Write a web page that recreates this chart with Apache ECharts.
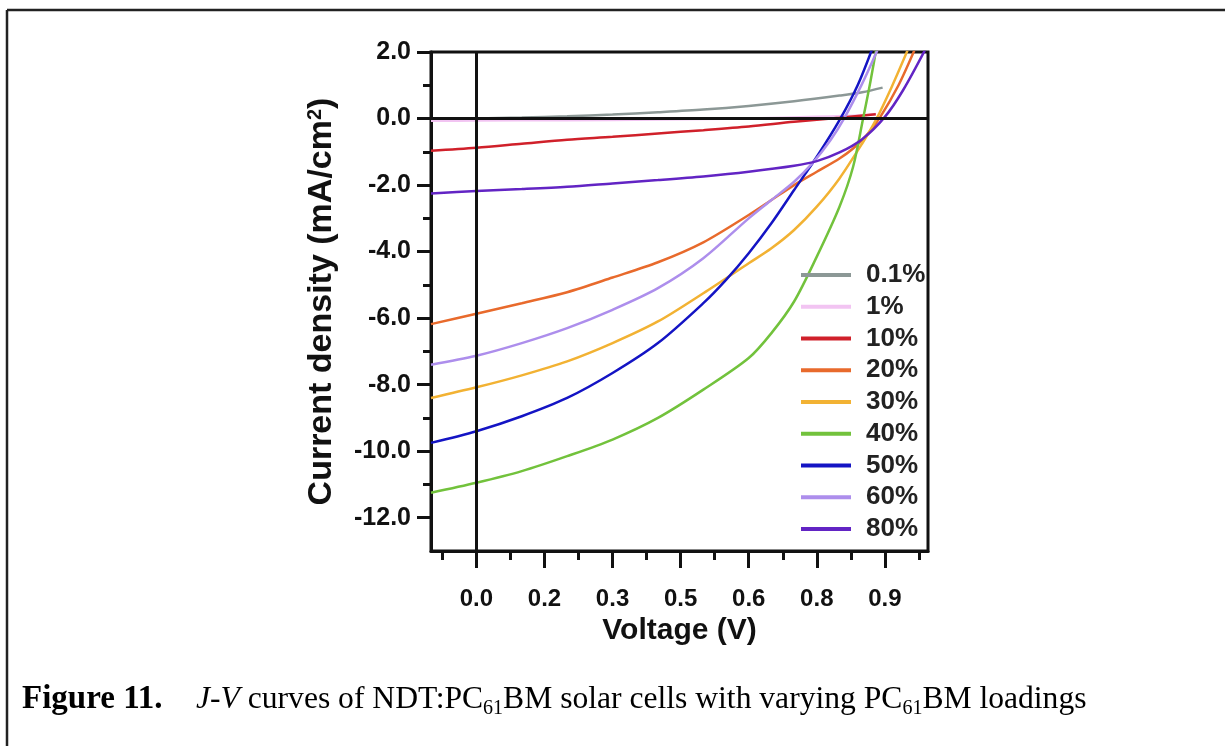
<!DOCTYPE html>
<html>
<head>
<meta charset="utf-8">
<script src="https://cdn.jsdelivr.net/npm/echarts@6/dist/echarts.min.js"></script>
<style>
  html, body { margin: 0; padding: 0; background: #fff; }
  #chart { width: 1225px; height: 746px; }
</style>
</head>
<body>
<div id="chart"></div>
<script>
// J-V curves, [voltage (V), current density (mA/cm2)]
const names = ['0.1%', '1%', '10%', '20%', '30%', '40%', '50%', '60%', '80%'];
const colors = ['#8c9896', '#f2c4f2', '#d0202a', '#e86a2c', '#f2b233', '#72c23c', '#1414c4', '#ad8eec', '#6224c4'];

const jv01 = [[-0.1, -0.03], [0, 0], [0.1, 0.03], [0.2, 0.07], [0.3, 0.12], [0.4, 0.19], [0.5, 0.27], [0.6, 0.38], [0.7, 0.52], [0.8, 0.69], [0.85, 0.79], [0.895, 0.93]];
const jv1 = [[-0.1, -0.07], [0, -0.06], [0.2, -0.05], [0.4, -0.03], [0.6, 0.0], [0.75, 0.05], [0.85, 0.1], [0.88, 0.14]];
const jv10 = [[-0.1, -0.97], [0, -0.88], [0.1, -0.76], [0.2, -0.64], [0.3, -0.55], [0.4, -0.45], [0.5, -0.35], [0.6, -0.24], [0.7, -0.1], [0.8, 0.02], [0.88, 0.13]];
const jv20 = [[-0.1, -6.18], [0, -5.87], [0.1, -5.55], [0.2, -5.22], [0.3, -4.78], [0.4, -4.32], [0.5, -3.72], [0.6, -2.9], [0.65, -2.45], [0.7, -2.0], [0.75, -1.6], [0.8, -1.2], [0.83, -0.9], [0.86, -0.5], [0.89, 0.05], [0.93, 1.0], [0.965, 2.05]];
const jv30 = [[-0.1, -8.4], [0, -8.08], [0.1, -7.72], [0.2, -7.3], [0.3, -6.75], [0.4, -6.1], [0.5, -5.25], [0.6, -4.35], [0.65, -3.9], [0.7, -3.35], [0.75, -2.65], [0.8, -1.8], [0.85, -0.75], [0.88, -0.05], [0.915, 0.95], [0.95, 2.05]];
const jv40 = [[-0.1, -11.25], [0, -10.95], [0.1, -10.6], [0.2, -10.15], [0.3, -9.65], [0.4, -9.0], [0.5, -8.15], [0.6, -7.2], [0.65, -6.45], [0.7, -5.5], [0.75, -4.15], [0.8, -2.65], [0.83, -1.45], [0.852, 0.0], [0.868, 1.1], [0.885, 2.4]];
const jv50 = [[-0.1, -9.75], [0, -9.4], [0.1, -8.95], [0.2, -8.4], [0.3, -7.65], [0.4, -6.75], [0.5, -5.55], [0.55, -4.85], [0.6, -4.05], [0.65, -3.15], [0.7, -2.15], [0.75, -1.15], [0.8, -0.05], [0.84, 1.0], [0.875, 2.2]];
const jv60 = [[-0.1, -7.4], [0, -7.13], [0.1, -6.75], [0.2, -6.3], [0.3, -5.75], [0.4, -5.1], [0.5, -4.2], [0.6, -3.0], [0.65, -2.45], [0.7, -1.9], [0.74, -1.35], [0.78, -0.65], [0.81, 0.0], [0.85, 1.05], [0.885, 2.1]];
const jv80 = [[-0.1, -2.25], [0, -2.18], [0.1, -2.12], [0.2, -2.05], [0.3, -1.95], [0.4, -1.85], [0.5, -1.74], [0.6, -1.6], [0.7, -1.42], [0.75, -1.28], [0.8, -1.02], [0.85, -0.62], [0.9, 0.05], [0.94, 0.85], [0.99, 2.1]];
const curves = [jv01, jv1, jv10, jv20, jv30, jv40, jv50, jv60, jv80];

// axis ticks
const xMajorTicks = [0, 0.15, 0.3, 0.45, 0.6, 0.75, 0.9];
const xTickLabels = ['0.0', '0.2', '0.3', '0.5', '0.6', '0.8', '0.9'];
const xMinorTicks = [-0.075, 0.075, 0.225, 0.375, 0.525, 0.675, 0.825, 0.975];
const yMajorTicks = [-12, -10, -8, -6, -4, -2, 0, 2];
const yMinorTicks = [-11, -9, -7, -5, -3, -1, 1];

const font = 'Liberation Sans, Arial, sans-serif';
const serif = 'Liberation Serif, Times New Roman, serif';
const ink = '#111';

function nearestLabel(v, ticks, labels) {
    let best = 0;
    ticks.forEach((t, i) => {
        if (Math.abs(t - v) < Math.abs(ticks[best] - v)) best = i;
    });
    return labels[best];
}

const xBase = { type: 'value', position: 'bottom', min: -0.1, max: 0.995, splitLine: { show: false } };
const yBase = { type: 'value', position: 'left', min: -13, max: 2, splitLine: { show: false } };

const series = names.map((name, i) => ({
    name: name,
    type: 'line',
    data: curves[i],
    color: colors[i],
    showSymbol: false,
    smooth: 0.3,
    lineStyle: { width: 2.5 },
    z: 3
}));

// black zero lines
series.push({
    name: 'zero',
    type: 'line',
    data: [[0, 0]],
    showSymbol: false,
    z: 1,
    markLine: {
        silent: true,
        symbol: ['none', 'none'],
        label: { show: false },
        lineStyle: { color: ink, width: 3, type: 'solid' },
        data: [{ yAxis: 0 }, { xAxis: 0 }]
    }
});

const option = {
    animation: false,
    backgroundColor: '#fff',
    grid: {
        left: 431, right: 297, top: 52, bottom: 195,
        show: true, borderColor: ink, borderWidth: 3
    },
    xAxis: [
        Object.assign({}, xBase, {
            name: 'Voltage (V)',
            nameLocation: 'middle',
            nameGap: 64,
            nameTextStyle: { fontFamily: font, fontSize: 30, fontWeight: 'bold', color: ink },
            axisLine: { onZero: false, lineStyle: { color: ink, width: 3 } },
            axisTick: { customValues: xMajorTicks, length: 17, lineStyle: { color: ink, width: 3 } },
            axisLabel: {
                customValues: xMajorTicks,
                margin: 36,
                fontFamily: font, fontSize: 24, fontWeight: 'bold', color: ink,
                formatter: v => nearestLabel(v, xMajorTicks, xTickLabels)
            }
        }),
        Object.assign({}, xBase, {
            axisLine: { show: false, onZero: false },
            axisTick: { customValues: xMinorTicks, length: 9, lineStyle: { color: ink, width: 3 } },
            axisLabel: { show: false }
        })
    ],
    yAxis: [
        Object.assign({}, yBase, {
            name: 'Current density (mA/cm{sup|2})',
            nameLocation: 'middle',
            nameGap: 92,
            nameTextStyle: {
                fontFamily: font, fontSize: 34, fontWeight: 'bold', color: ink,
                rich: { sup: { fontFamily: font, fontSize: 20, fontWeight: 'bold', color: ink, verticalAlign: 'top' } }
            },
            axisLine: { onZero: false, lineStyle: { color: ink, width: 3 } },
            axisTick: { customValues: yMajorTicks, length: 14, lineStyle: { color: ink, width: 3 } },
            axisLabel: {
                customValues: yMajorTicks,
                margin: 20,
                fontFamily: font, fontSize: 25, fontWeight: 'bold', color: ink,
                formatter: v => v.toFixed(1)
            }
        }),
        Object.assign({}, yBase, {
            axisLine: { show: false, onZero: false },
            axisTick: { customValues: yMinorTicks, length: 8, lineStyle: { color: ink, width: 3 } },
            axisLabel: { show: false }
        })
    ],
    legend: {
        data: names,
        orient: 'vertical',
        left: 801,
        top: 262,
        padding: 0,
        icon: 'rect',
        itemWidth: 50,
        itemHeight: 4,
        itemGap: 5.75,
        textStyle: { fontFamily: font, fontSize: 26, fontWeight: 'bold', color: '#222', padding: [0, 0, 0, 10] }
    },
    graphic: [
        { type: 'line', shape: { x1: 7, y1: 10, x2: 7, y2: 746 }, style: { stroke: '#222', lineWidth: 2.5 } },
        { type: 'line', shape: { x1: 7, y1: 10, x2: 1225, y2: 10 }, style: { stroke: '#222', lineWidth: 2.5 } },
        {
            type: 'text',
            left: 22,
            top: 683,
            style: {
                text: '{b|Figure 11.}{i|J-V}{n| curves of NDT:PC}{s|61}{n|BM solar cells with varying PC}{s|61}{n|BM loadings}',
                fill: '#000',
                rich: {
                    b: { fontFamily: serif, fontSize: 33, fontWeight: 'bold', lineHeight: 38, width: 174 },
                    i: { fontFamily: serif, fontSize: 31.6, fontStyle: 'italic', lineHeight: 38 },
                    n: { fontFamily: serif, fontSize: 31.6, lineHeight: 38 },
                    s: { fontFamily: serif, fontSize: 20, lineHeight: 20, verticalAlign: 'bottom' }
                }
            }
        }
    ],
    series: series
};

echarts.init(document.getElementById('chart')).setOption(option);
</script>
</body>
</html>
